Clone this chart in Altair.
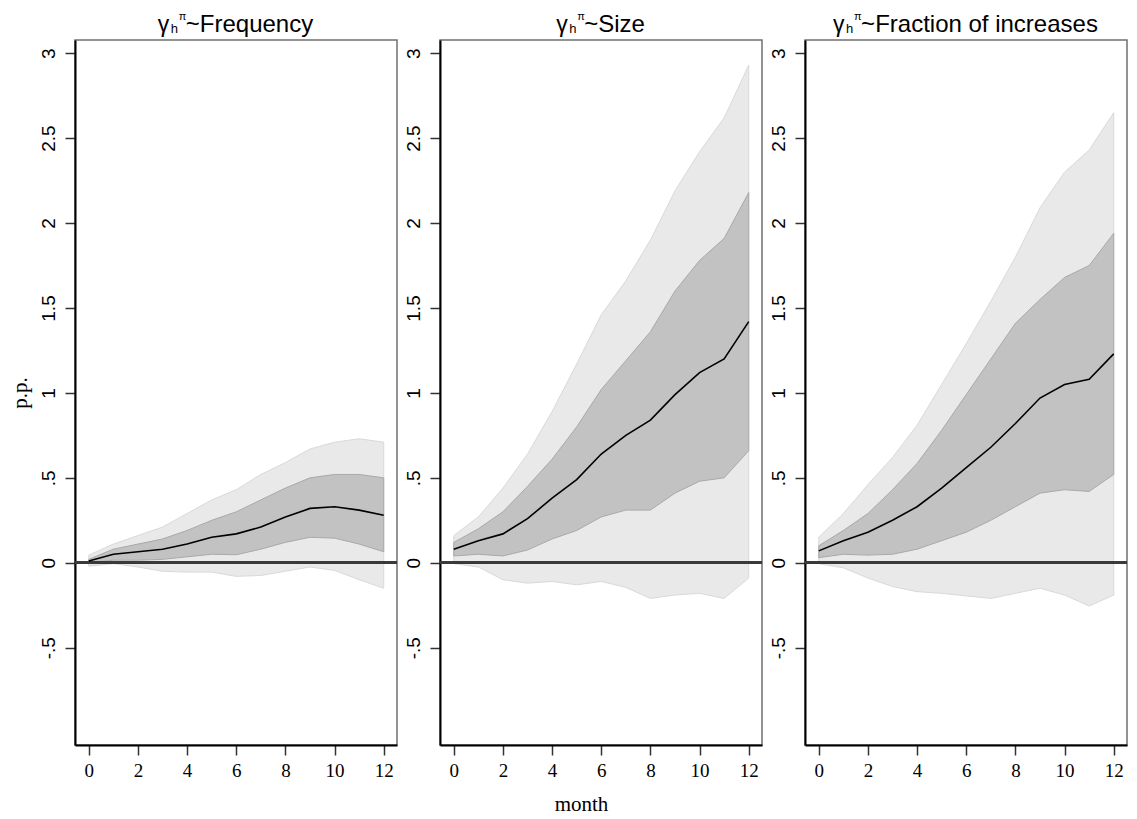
import altair as alt
import pandas as pd

months = list(range(13))

panel_names = ["Frequency", "Size", "Fraction of increases"]

freq_mean = [0.01, 0.05, 0.065, 0.08, 0.11, 0.15, 0.17, 0.21, 0.27, 0.32, 0.33, 0.31, 0.28]
freq_in_lo = [0.0, 0.015, 0.015, 0.02, 0.035, 0.05, 0.047, 0.08, 0.12, 0.15, 0.145, 0.11, 0.065]
freq_in_hi = [0.02, 0.08, 0.11, 0.14, 0.19, 0.25, 0.30, 0.37, 0.44, 0.50, 0.52, 0.52, 0.50]
freq_out_lo = [-0.02, -0.005, -0.025, -0.05, -0.055, -0.055, -0.08, -0.075, -0.05, -0.025, -0.045, -0.10, -0.15]
freq_out_hi = [0.045, 0.11, 0.16, 0.21, 0.29, 0.37, 0.43, 0.52, 0.59, 0.67, 0.71, 0.73, 0.71]

size_mean = [0.079, 0.13, 0.17, 0.26, 0.38, 0.49, 0.64, 0.75, 0.84, 0.99, 1.12, 1.20, 1.42]
size_in_lo = [0.04, 0.05, 0.04, 0.075, 0.14, 0.19, 0.27, 0.31, 0.31, 0.41, 0.48, 0.50, 0.66]
size_in_hi = [0.12, 0.20, 0.30, 0.45, 0.61, 0.80, 1.02, 1.19, 1.36, 1.60, 1.78, 1.91, 2.18]
size_out_lo = [-0.005, -0.025, -0.10, -0.12, -0.11, -0.13, -0.11, -0.145, -0.21, -0.19, -0.18, -0.21, -0.09]
size_out_hi = [0.16, 0.27, 0.44, 0.64, 0.89, 1.17, 1.46, 1.66, 1.90, 2.19, 2.42, 2.62, 2.93]

frac_mean = [0.07, 0.13, 0.18, 0.25, 0.33, 0.44, 0.56, 0.68, 0.82, 0.97, 1.05, 1.08, 1.23]
frac_in_lo = [0.03, 0.05, 0.045, 0.05, 0.08, 0.13, 0.18, 0.25, 0.33, 0.41, 0.43, 0.42, 0.52]
frac_in_hi = [0.10, 0.19, 0.29, 0.43, 0.585, 0.78, 0.99, 1.20, 1.41, 1.55, 1.68, 1.75, 1.94]
frac_out_lo = [-0.005, -0.03, -0.09, -0.14, -0.17, -0.18, -0.195, -0.21, -0.18, -0.15, -0.19, -0.255, -0.19]
frac_out_hi = [0.15, 0.29, 0.46, 0.62, 0.81, 1.05, 1.29, 1.54, 1.80, 2.09, 2.30, 2.43, 2.65]

x_ticks = [0, 2, 4, 6, 8, 10, 12]
y_ticks = [-0.5, 0, 0.5, 1, 1.5, 2, 2.5, 3]

series = [
    (freq_mean, freq_in_lo, freq_in_hi, freq_out_lo, freq_out_hi),
    (size_mean, size_in_lo, size_in_hi, size_out_lo, size_out_hi),
    (frac_mean, frac_in_lo, frac_in_hi, frac_out_lo, frac_out_hi),
]

# ---- layout / style ----
W, H = 322, 705
X_DOMAIN = [-0.56, 12.54]
Y_DOMAIN = [-1.073, 3.078]
SANS = "Liberation Sans"
SERIF = "Liberation Serif"
TITLE_SIZE = 24

# Arial-compatible advance widths (per 1000 em) for centring the composed titles
ARIAL = {"~": 584, "F": 611, "S": 667, "r": 333, "e": 556, "q": 556, "u": 556,
         "n": 556, "c": 500, "y": 500, "i": 222, "z": 500, "a": 556, "t": 278,
         "o": 556, " ": 278, "f": 278, "s": 500}


def text_width(s, size):
    return sum(ARIAL.get(ch, 556) for ch in s) / 1000.0 * size


def title_layers(name):
    main = "~" + name
    prefix = 27
    total = prefix + text_width(main, TITLE_SIZE)
    start = W / 2 - total / 2 + prefix
    parts = [
        ("γ", start - 28, -8, 23),
        ("h", start - 15, -7, 13),
        ("π", start - 7, -20, 11),
        (main, start, -8, TITLE_SIZE),
    ]
    layers = []
    for txt, x, y, fs in parts:
        layers.append(
            alt.Chart(pd.DataFrame({"label": [txt]}))
            .mark_text(align="left", baseline="alphabetic", font=SANS, fontSize=fs, color="black")
            .encode(text="label:N", x=alt.value(x), y=alt.value(y))
        )
    return layers


def panel(i):
    mean, in_lo, in_hi, out_lo, out_hi = series[i]
    df = pd.DataFrame({"month": months, "mean": mean, "in_lo": in_lo, "in_hi": in_hi,
                       "out_lo": out_lo, "out_hi": out_hi})
    xscale = alt.Scale(domain=X_DOMAIN, nice=False, zero=False)
    yscale = alt.Scale(domain=Y_DOMAIN, nice=False, zero=False)
    x_axis = alt.Axis(values=x_ticks, labelFont=SERIF, labelFontSize=19, tickSize=10,
                      labelPadding=6, title="month" if i == 1 else None,
                      titleFont=SERIF, titleFontSize=21, titleFontWeight="normal",
                      titleX=141, titlePadding=13)
    y_axis = alt.Axis(values=y_ticks,
                      labelExpr="datum.value == 0 ? '0' : replace(toString(datum.value), '0.', '.')",
                      labelFont=SANS, labelFontSize=19, labelAngle=270, labelAlign="center",
                      labelBaseline="bottom", tickSize=10, labelPadding=7,
                      title="p.p." if i == 0 else None, titleFont=SERIF, titleFontSize=21,
                      titleFontWeight="normal", titlePadding=9)
    base = alt.Chart(df)
    x = alt.X("month:Q", scale=xscale, axis=x_axis)
    outer = base.mark_area(fill="#e9e9e9", stroke="#d9d9d9", strokeWidth=1).encode(
        x=x, y=alt.Y("out_lo:Q", scale=yscale, axis=y_axis), y2="out_hi:Q")
    inner = base.mark_area(fill="#c2c2c2", stroke="#a9a9a9", strokeWidth=1).encode(
        x=x, y=alt.Y("in_lo:Q", scale=yscale, axis=y_axis), y2="in_hi:Q")
    zero = base.mark_rule(color="#3a3a3a", strokeWidth=2).encode(y=alt.datum(0))
    line = base.mark_line(color="black", strokeWidth=1.6).encode(
        x=x, y=alt.Y("mean:Q", scale=yscale, axis=y_axis))
    return alt.layer(outer, inner, zero, line, *title_layers(panel_names[i])).properties(
        width=W, height=H)


chart = (
    alt.hconcat(panel(0), panel(1), panel(2), spacing=4)
    .properties(padding={"left": 0, "top": 2, "right": 0, "bottom": 0})
    .configure_view(stroke="#707070", strokeWidth=1.5)
    .configure_axis(domainColor="black", domainWidth=2, tickColor="#333333", tickWidth=1.5,
                    grid=False, labelColor="black", titleColor="black")
)

chart.save("out.html", embed_options={"renderer": "svg", "actions": False})
